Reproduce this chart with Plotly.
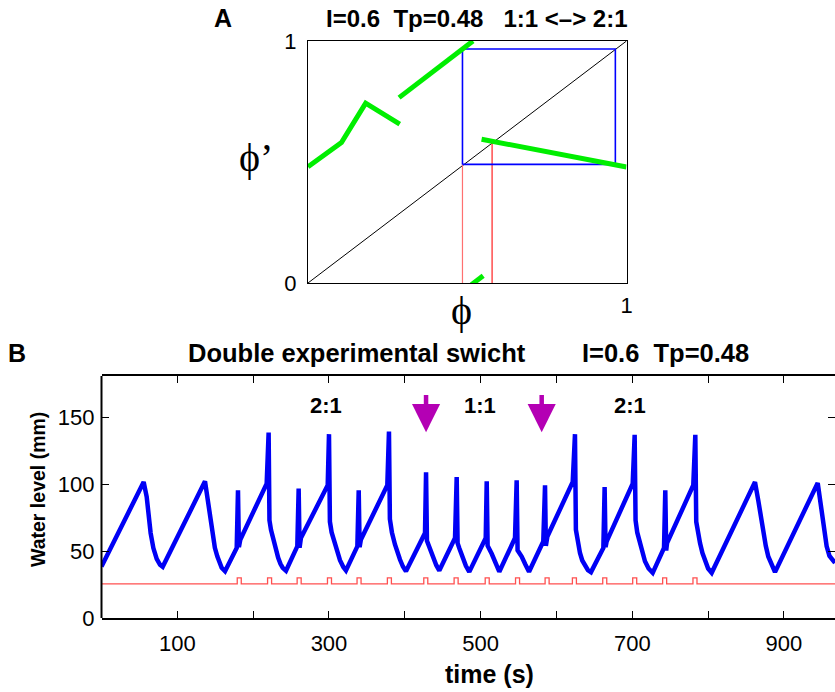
import plotly.graph_objects as go

W, H = 835, 692
FONT = "Liberation Sans, Arial, Helvetica, sans-serif"
SERIF = "Liberation Serif, DejaVu Serif, Times New Roman, serif"

# ---------------- Panel A data (phase map) ----------------
diag_x = [0, 1]
diag_y = [0, 1]
green_seg1_x = [0.0, 0.105, 0.181, 0.288]
green_seg1_y = [0.48, 0.58, 0.743, 0.657]
green_seg2_x = [0.286, 0.518]
green_seg2_y = [0.766, 1.0]
green_seg3_x = [0.545, 1.0]
green_seg3_y = [0.594, 0.479]
green_seg4_x = [0.513, 0.55]
green_seg4_y = [-0.007, 0.03]
cobweb_x = [0.485, 0.485, 0.965, 0.965, 0.485]
cobweb_y = [0.49, 0.967, 0.967, 0.49, 0.49]
red1_x = [0.485, 0.485]
red1_y = [0, 0.49]
red2_x = [0.578, 0.578]
red2_y = [0, 0.58]

# ---------------- Panel B data (water level) ----------------
time_s = [0, 55.6, 59.6, 62.2, 64.8, 68.4, 72.8, 77.2, 80.7,
          136.5, 140.9, 143.5, 146.6, 149.5, 152.7, 155.5, 158.5, 162.9,
          178.3, 180.0, 181.2, 183.0, 217.8, 220.4, 221.5, 223.5, 227, 230, 233, 236, 239, 243.3,
          258.2, 260.0, 261.2, 263.0, 298.3, 300.0, 301.2, 303.5, 305.7, 307.9, 310.1, 314.5, 318.9, 322.4,
          337.4, 339.2, 340.4, 342.0, 376.9, 379.1, 380.3, 383, 387, 390, 393.6, 397.5, 401.5,
          426.6, 428.0, 429.2, 432, 434.8, 437.6, 441.5, 445.5,
          466.2, 468.4, 469.6, 472, 476.3, 480.5, 485,
          506.7, 508.0, 509.2, 514.6, 519, 524.6,
          545.3, 547.5, 548.7, 554.1, 559, 563.8,
          582.6, 584.9, 586.0, 588.0, 621.4, 624.4, 625.6, 628, 631, 634, 637.6, 641.5, 645.5,
          661.8, 663.5, 664.7, 666.2, 700.5, 703.1, 704.3, 706.5, 710.1, 713.3, 716.7, 721.5, 726.9,
          741.8, 743.5, 744.7, 745.8, 780.4, 783.1, 784.3, 786.5, 789.3, 792.5, 795.9, 800, 804.7,
          861.8, 866.1, 869.5, 872.7, 876, 879.3, 883.5, 888.2,
          944.5, 949.7, 952.5, 956.3, 960, 967.3]
level_mm = [38.5, 101.7, 90.6, 75.8, 63.5, 52.3, 44.2, 39.8, 38.3,
            102.2, 85.7, 73, 61, 52.5, 46.1, 41, 37.5, 35,
            52.4, 95.6, 53, 58.5, 100.5, 138.7, 73, 66, 57, 50.5, 45, 40.5, 37.5, 35.3,
            53.6, 96.8, 52.5, 59.8, 99.3, 137.5, 72, 64, 59.6, 55, 49.8, 43.2, 38.2, 35.6,
            53.6, 95.6, 53, 58.5, 99.3, 139.5, 74, 64, 55, 49, 43.7, 38.5, 35,
            63.5, 109, 57.7, 53, 49, 45, 39.5, 35.5,
            59.8, 105.4, 56, 52, 45, 39, 34.5,
            59.8, 102.2, 54, 48, 41, 34.6,
            59.8, 103, 50.6, 46, 40, 34.6,
            57.3, 99.3, 54, 61, 101.7, 137.5, 66, 57, 48.6, 43, 38.7, 35.8, 34.3,
            52.4, 98, 53, 57.3, 100.5, 137, 73, 64, 56, 48.5, 42.4, 37, 33.8,
            52.4, 95.6, 50.5, 56, 99.3, 137, 72, 64, 56, 48.5, 42.4, 37, 33.8,
            101.7, 88, 75, 63.5, 54, 46, 39.5, 34.3,
            101, 80.7, 67, 53.6, 46.5, 41.2]

pulse_starts = [179, 219, 258, 298, 337, 377, 425, 465, 506, 546, 585, 621, 661, 700.5, 740, 780]
pulse_width = 5.3
pulse_base = 25.5
pulse_high = 30.0
t_end = 967.3

arrow_times = [428, 580.5]
arrow_tip = 139
arrow_tail = 168

ratio_labels = ["2:1", "1:1", "2:1"]
ratio_times = [296.5, 499.6, 697.4]
ratio_level = 159

xtick_vals = [100, 200, 300, 400, 500, 600, 700, 800, 900]
xtick_text = ["100", "", "300", "", "500", "", "700", "", "900"]
ytick_vals = [0, 50, 100, 150]

# build pulse step trace
px_ = [0]
py_ = [pulse_base]
for s in pulse_starts:
    px_ += [s, s + pulse_width]
    py_ += [pulse_high, pulse_base]
px_.append(t_end)
py_.append(pulse_base)

fig = go.Figure()

def pa(x, y, color, width, name):
    fig.add_trace(go.Scatter(x=x, y=y, mode="lines", xaxis="x", yaxis="y",
                             line=dict(color=color, width=width), name=name,
                             showlegend=False, hoverinfo="skip"))

pa(diag_x, diag_y, "black", 1, "diag")
pa(red1_x, red1_y, "#ff7070", 1.2, "red1")
pa(red2_x, red2_y, "#ff2020", 1.2, "red2")
pa(cobweb_x, cobweb_y, "#0000ff", 1.6, "cobweb")
for gx, gy in [(green_seg1_x, green_seg1_y), (green_seg2_x, green_seg2_y),
               (green_seg3_x, green_seg3_y), (green_seg4_x, green_seg4_y)]:
    pa(gx, gy, "#00ee00", 5, "map")

fig.add_trace(go.Scatter(x=px_, y=py_, mode="lines", line_shape="hv", xaxis="x2", yaxis="y2",
                         line=dict(color="#ff5050", width=1.3), showlegend=False, hoverinfo="skip"))
fig.add_trace(go.Scatter(x=time_s, y=level_mm, mode="lines", xaxis="x2", yaxis="y2",
                         line=dict(color="#0000f5", width=4.5), showlegend=False, hoverinfo="skip"))

def px2x(p):
    return p / W

def py2y(p):
    return 1 - p / H

def note(xp, yp, text, size, family=FONT, angle=0):
    return dict(x=px2x(xp), y=py2y(yp), xref="paper", yref="paper", text=text,
                xanchor="center", yanchor="middle", textangle=angle, showarrow=False,
                font=dict(family=family, size=size, color="black"))

annotations = []
# Panel A texts
annotations.append(note(223, 18, "<b>A</b>", 25))
annotations.append(note(477, 18, "<b>I=0.6\u00a0\u00a0Tp=0.48\u00a0\u00a0\u00a01:1 <\u2013> 2:1</b>", 24))
annotations.append(note(462, 310, "\u03d5", 40, SERIF))
annotations.append(note(256, 158, "\u03d5\u2019", 40, SERIF))
# Panel B texts
annotations.append(note(17, 353, "<b>B</b>", 25))
annotations.append(note(468, 353, "<b>Double experimental swicht" + "\u00a0" * 8 + "I=0.6\u00a0\u00a0Tp=0.48</b>", 25.5))
annotations.append(note(490, 674, "<b>time (s)</b>", 25))
annotations.append(note(38, 490, "<b>Water level (mm)</b>", 19.5, angle=-90))
for lab, t in zip(ratio_labels, ratio_times):
    annotations.append(dict(x=t, y=ratio_level, xref="x2", yref="y2", text="<b>" + lab + "</b>",
                            xanchor="center", yanchor="middle", showarrow=False,
                            font=dict(family=FONT, size=22, color="black")))
for t in arrow_times:
    annotations.append(dict(x=t, y=arrow_tip, xref="x2", yref="y2", ax=t, ay=arrow_tail,
                            axref="x2", ayref="y2", text="", showarrow=True,
                            arrowhead=2, arrowsize=1.25, arrowwidth=4.5, arrowcolor="#b400b4"))

tickfont = dict(family=FONT, size=22, color="black")

fig.update_layout(
    template="none",
    width=W, height=H, autosize=False,
    margin=dict(l=0, r=0, t=0, b=0, pad=0),
    paper_bgcolor="white", plot_bgcolor="white",
    showlegend=False,
    annotations=annotations,
    xaxis=dict(domain=[px2x(308), px2x(626.5)], range=[0, 1], tickvals=[1], ticktext=["1"],
               ticks="", showline=True, mirror=True, linecolor="black", linewidth=1,
               showgrid=False, zeroline=False, automargin=False, tickfont=tickfont,
               anchor="y", ticklabelstandoff=3),
    yaxis=dict(domain=[py2y(283), py2y(41)], range=[0, 1], tickvals=[0, 1], ticktext=["0", "1"],
               ticks="", showline=True, mirror=True, linecolor="black", linewidth=1,
               showgrid=False, zeroline=False, automargin=False, tickfont=tickfont,
               anchor="x", ticklabelstandoff=6),
    xaxis2=dict(domain=[px2x(101.5), 1.0], range=[0, t_end], tickvals=xtick_vals,
                ticktext=xtick_text, ticks="inside", ticklen=7, tickcolor="black", tickwidth=1,
                showline=True, mirror="ticks", linecolor="black", linewidth=1.8,
                showgrid=False, zeroline=False, automargin=False, tickfont=tickfont,
                anchor="y2", ticklabelstandoff=5),
    yaxis2=dict(domain=[py2y(618), py2y(376)], range=[0, 181], tickvals=ytick_vals,
                ticks="inside", ticklen=7, tickcolor="black", tickwidth=1,
                showline=False, mirror="ticks",
                showgrid=False, zeroline=False, automargin=False, tickfont=tickfont,
                anchor="x2", ticklabelstandoff=6),
    shapes=[dict(type="line", xref="x2 domain", yref="y2 domain", x0=0, x1=0, y0=0, y1=1,
                 line=dict(color="black", width=2))],
)

fig.write_html("out.html")
